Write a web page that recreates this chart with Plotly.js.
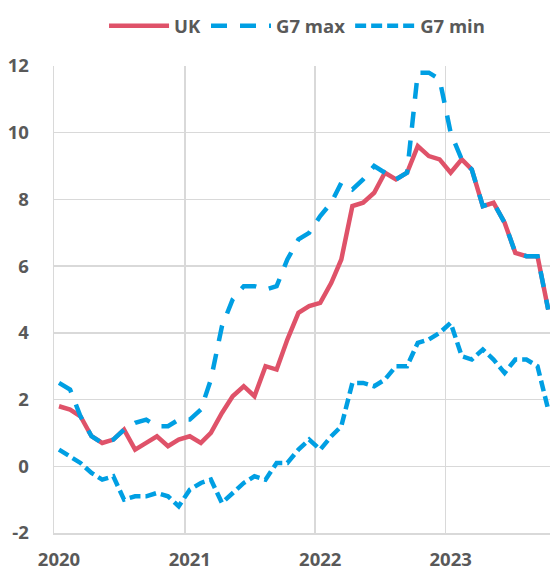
<!DOCTYPE html>
<html>
<head>
<meta charset="utf-8">
<script src="https://cdn.plot.ly/plotly-3.0.1.min.js"></script>
<style>
  html, body { margin: 0; padding: 0; background: #ffffff; }
  #chart { width: 550px; height: 570px; }
</style>
</head>
<body>
<div id="chart"></div>
<script>
// Months (monthly observations, Jan 2020 to Oct 2023)
const months = [
  '2020-01','2020-02','2020-03','2020-04','2020-05','2020-06','2020-07','2020-08','2020-09','2020-10','2020-11','2020-12',
  '2021-01','2021-02','2021-03','2021-04','2021-05','2021-06','2021-07','2021-08','2021-09','2021-10','2021-11','2021-12',
  '2022-01','2022-02','2022-03','2022-04','2022-05','2022-06','2022-07','2022-08','2022-09','2022-10','2022-11','2022-12',
  '2023-01','2023-02','2023-03','2023-04','2023-05','2023-06','2023-07','2023-08','2023-09','2023-10'
];

// UK inflation (%)
const ukValues = [
  1.8, 1.7, 1.5, 0.9, 0.7, 0.8, 1.1, 0.5, 0.7, 0.9, 0.6, 0.8,
  0.9, 0.7, 1.0, 1.6, 2.1, 2.4, 2.1, 3.0, 2.9, 3.8, 4.6, 4.8,
  4.9, 5.5, 6.2, 7.8, 7.9, 8.2, 8.8, 8.6, 8.8, 9.6, 9.3, 9.2,
  8.8, 9.2, 8.9, 7.8, 7.9, 7.3, 6.4, 6.3, 6.3, 4.7
];

// Highest inflation among G7 (%)
const g7MaxValues = [
  2.5, 2.3, 1.5, 0.9, 0.7, 0.8, 1.1, 1.3, 1.4, 1.2, 1.2, 1.4,
  1.4, 1.7, 2.6, 4.2, 5.0, 5.4, 5.4, 5.3, 5.4, 6.2, 6.8, 7.0,
  7.5, 7.9, 8.5, 8.3, 8.6, 9.0, 8.8, 8.6, 8.8, 11.8, 11.8, 11.6,
  10.0, 9.2, 8.9, 7.8, 7.9, 7.3, 6.4, 6.3, 6.3, 4.7
];

// Lowest inflation among G7 (%)
const g7MinValues = [
  0.5, 0.3, 0.1, -0.2, -0.4, -0.3, -1.0, -0.9, -0.9, -0.8, -0.9, -1.2,
  -0.7, -0.5, -0.4, -1.1, -0.8, -0.5, -0.3, -0.4, 0.1, 0.1, 0.5, 0.8,
  0.5, 0.9, 1.2, 2.5, 2.5, 2.4, 2.6, 3.0, 3.0, 3.7, 3.8, 4.0,
  4.3, 3.3, 3.2, 3.5, 3.2, 2.8, 3.2, 3.2, 3.0, 1.7
];

const seriesNames = ['UK', 'G7 max', 'G7 min'];
const yearLabels = ['2020', '2021', '2022', '2023'];
const yTicks = [-2, 0, 2, 4, 6, 8, 10, 12];

const red = '#DF5269';
const blue = '#009FE3';
const textGrey = '#595959';
const gridGrey = '#D9D9D9';

const xDates = months.map(m => m + '-15');

const traces = [
  {
    x: xDates, y: ukValues, name: seriesNames[0], type: 'scatter', mode: 'lines',
    line: { color: red, width: 4.5 }
  },
  {
    x: xDates, y: g7MaxValues, name: seriesNames[1], type: 'scatter', mode: 'lines',
    line: { color: blue, width: 4.5, dash: '16px,13px' }
  },
  {
    x: xDates, y: g7MinValues, name: seriesNames[2], type: 'scatter', mode: 'lines',
    line: { color: blue, width: 4.5, dash: '11px,5px' }
  }
];

const fontBase = { family: '"Open Sans", "Noto Sans", sans-serif', size: 18.5, color: textGrey, weight: 700 };

const layout = {
  width: 550,
  height: 570,
  margin: { l: 54, r: 0, t: 66, b: 37, pad: 0 },
  paper_bgcolor: '#ffffff',
  plot_bgcolor: '#ffffff',
  font: fontBase,
  showlegend: true,
  legend: {
    orientation: 'h',
    x: 0.49, xanchor: 'center',
    y: 1.085, yanchor: 'middle',
    font: fontBase,
    itemwidth: 60,
    tracegroupgap: 0,
    traceorder: 'normal'
  },
  xaxis: {
    type: 'date',
    range: ['2020-01-01', '2023-10-20'],
    tickmode: 'array',
    tickvals: yearLabels.map(y => y + '-01-01'),
    ticktext: yearLabels,
    ticks: '',
    ticklabelshift: 5,
    ticklabelstandoff: 9,
    showgrid: true,
    gridcolor: gridGrey,
    gridwidth: 1.5,
    zeroline: false,
    showline: true,
    linecolor: gridGrey,
    linewidth: 1.5,
    tickfont: fontBase,
    fixedrange: true
  },
  yaxis: {
    range: [-2, 12],
    tickmode: 'array',
    tickvals: yTicks,
    ticktext: yTicks.map(String),
    ticks: '',
    ticklabelstandoff: 20,
    showgrid: true,
    gridcolor: gridGrey,
    gridwidth: 1.5,
    zeroline: false,
    showline: true,
    linecolor: gridGrey,
    linewidth: 1.5,
    tickfont: fontBase,
    fixedrange: true
  }
};

Plotly.newPlot('chart', traces, layout, { displayModeBar: false, staticPlot: true });
</script>
</body>
</html>
